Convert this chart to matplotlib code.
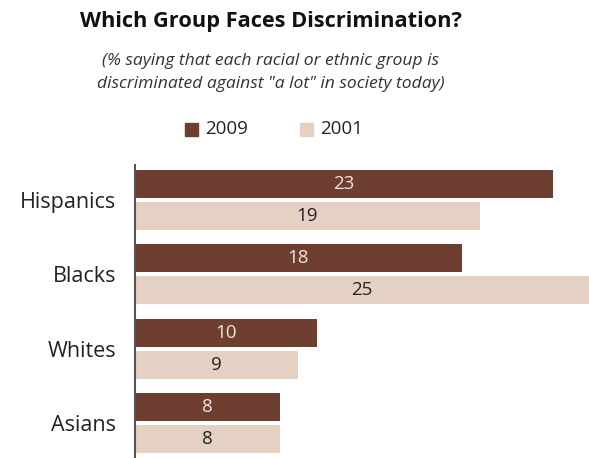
import numpy as np
import matplotlib
matplotlib.use("Agg")
from matplotlib import pyplot as plt
from matplotlib.patches import Rectangle

groups = ["Hispanics", "Blacks", "Whites", "Asians"]
vals_2009 = [23, 18, 10, 8]
vals_2001 = [19, 25, 9, 8]
series_names = ["2009", "2001"]

dark = "#6e3f31"
light = "#e4d1c3"
plt.rcParams["font.family"] = ["Open Sans", "DejaVu Sans"]

fig = plt.figure(figsize=(5.89, 4.58), dpi=100)
ax = fig.add_axes([135 / 589, 0.0, 1 - 135 / 589, 293 / 458])

y = np.arange(len(groups))
h = 0.375
off = 0.215
b1 = ax.barh(y - off, vals_2009, height=h, color=dark)
b2 = ax.barh(y + off, vals_2001, height=h, color=light)

for bar, v in zip(b1, vals_2009):
    ax.text(v / 2, bar.get_y() + bar.get_height() / 2, str(v),
            ha="center", va="center", color="#f0e4dc", fontsize=13.5)
for bar, v in zip(b2, vals_2001):
    ax.text(v / 2, bar.get_y() + bar.get_height() / 2, str(v),
            ha="center", va="center", color="#222222", fontsize=13.5)

ax.set_xlim(0, 25)
ax.set_ylim(3.47, -0.47)
ax.set_yticks(y)
ax.set_yticklabels(groups, fontsize=15.5, color="#222222")
ax.tick_params(axis="y", length=0, pad=13.5)
ax.set_xticks([])
for s in ["top", "right", "bottom"]:
    ax.spines[s].set_visible(False)
ax.spines["left"].set_color("#555555")
ax.spines["left"].set_linewidth(1.5)

cx = 271 / 589
fig.text(cx, 1 - 22 / 458, "Which Group Faces Discrimination?",
         ha="center", va="center", fontsize=15.7, fontweight="bold", color="#111111")
fig.text(cx, 1 - 61 / 458, "(% saying that each racial or ethnic group is",
         ha="center", va="center", fontsize=12.6, style="italic", color="#333333")
fig.text(cx, 1 - 84 / 458, "discriminated against \"a lot\" in society today)",
         ha="center", va="center", fontsize=12.6, style="italic", color="#333333")

# legend
ly = 1 - 129 / 458
fig.patches.append(Rectangle((185 / 589, ly - 6.5 / 458), 13 / 589, 13 / 458,
                             transform=fig.transFigure, color=dark))
fig.text(205 / 589, ly, series_names[0], ha="left", va="center", fontsize=13.5, color="#222222")
fig.patches.append(Rectangle((300 / 589, ly - 6.5 / 458), 13 / 589, 13 / 458,
                             transform=fig.transFigure, color=light))
fig.text(320 / 589, ly, series_names[1], ha="left", va="center", fontsize=13.5, color="#222222")

fig.savefig("out.png", dpi=100)
